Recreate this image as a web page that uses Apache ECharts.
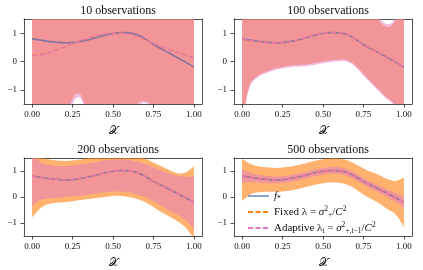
<!DOCTYPE html>
<html>
<head>
<meta charset="utf-8">
<script src="https://cdn.jsdelivr.net/npm/echarts@6/dist/echarts.min.js"></script>
<style>
  html, body { margin: 0; padding: 0; background: #fff; }
  #chart { width: 423px; height: 270px; }
</style>
</head>
<body>
<div id="chart"></div>
<script>
// x grid shared by the true function and the mean estimates
const X = [0, 0.05, 0.1, 0.15, 0.2, 0.25, 0.3, 0.35, 0.4, 0.45, 0.5, 0.55, 0.6, 0.65, 0.7, 0.75, 0.8, 0.85, 0.9, 0.95, 1.0];
const fStar = [0.80, 0.76, 0.71, 0.68, 0.66, 0.67, 0.71, 0.77, 0.85, 0.93, 0.99, 1.02, 1.01, 0.94, 0.79, 0.60, 0.44, 0.29, 0.13, -0.03, -0.20];

// mean estimates per panel
const fixedMean10 = [0.22, 0.25, 0.31, 0.41, 0.52, 0.63, 0.74, 0.83, 0.91, 0.97, 1.00, 1.00, 0.97, 0.89, 0.77, 0.63, 0.52, 0.42, 0.32, 0.22, 0.14];
const adaptiveMean10 = [0.20, 0.23, 0.30, 0.40, 0.52, 0.63, 0.74, 0.84, 0.92, 0.98, 1.00, 1.00, 0.97, 0.89, 0.77, 0.63, 0.52, 0.42, 0.32, 0.22, 0.13];
const fixedMean100 = [0.79, 0.74, 0.70, 0.67, 0.66, 0.67, 0.71, 0.77, 0.85, 0.93, 0.99, 1.02, 1.01, 0.94, 0.79, 0.60, 0.44, 0.29, 0.13, -0.03, -0.19];
const adaptiveMean100 = [0.80, 0.75, 0.70, 0.67, 0.66, 0.67, 0.71, 0.77, 0.85, 0.93, 0.99, 1.02, 1.01, 0.94, 0.79, 0.60, 0.44, 0.29, 0.13, -0.03, -0.20];
const fixedMean200 = [0.80, 0.76, 0.71, 0.68, 0.66, 0.67, 0.71, 0.77, 0.85, 0.93, 0.99, 1.02, 1.01, 0.94, 0.79, 0.60, 0.44, 0.29, 0.13, -0.03, -0.20];
const adaptiveMean200 = [0.80, 0.76, 0.71, 0.68, 0.66, 0.67, 0.71, 0.77, 0.85, 0.93, 0.99, 1.02, 1.01, 0.94, 0.79, 0.60, 0.44, 0.29, 0.13, -0.03, -0.20];
const fixedMean500 = [0.80, 0.76, 0.71, 0.68, 0.66, 0.67, 0.71, 0.77, 0.85, 0.93, 0.99, 1.02, 1.01, 0.94, 0.79, 0.60, 0.44, 0.29, 0.13, -0.03, -0.20];
const adaptiveMean500 = [0.80, 0.76, 0.71, 0.68, 0.66, 0.67, 0.71, 0.77, 0.85, 0.93, 0.99, 1.02, 1.01, 0.94, 0.79, 0.60, 0.44, 0.29, 0.13, -0.03, -0.20];

// confidence bands, 10 observations (almost everything covered)
const xBand10 = [0, 0.1, 0.2, 0.22, 0.24, 0.26, 0.28, 0.30, 0.32, 0.34, 0.36, 0.45, 0.55, 0.62, 0.64, 0.66, 0.68, 0.70, 0.72, 0.74, 0.76, 0.85, 1.0];
const fixedUp10 = [2.6, 2.6, 2.6, 2.6, 2.6, 2.6, 2.6, 2.6, 2.6, 2.6, 2.6, 2.6, 2.6, 2.6, 2.6, 2.6, 2.6, 2.6, 2.6, 2.6, 2.6, 2.6, 2.6];
const fixedLo10 = [-2.6, -2.4, -2.0, -1.75, -1.45, -1.2, -1.12, -1.17, -1.42, -1.7, -2.0, -2.4, -2.2, -1.75, -1.55, -1.44, -1.40, -1.40, -1.44, -1.55, -1.75, -2.3, -2.6];
const adaptiveUp10 = [2.8, 2.8, 2.8, 2.8, 2.8, 2.8, 2.8, 2.8, 2.8, 2.8, 2.8, 2.8, 2.8, 2.8, 2.8, 2.8, 2.8, 2.8, 2.8, 2.8, 2.8, 2.8, 2.8];
const adaptiveLo10 = [-2.8, -2.6, -2.2, -1.95, -1.65, -1.38, -1.26, -1.30, -1.55, -1.9, -2.2, -2.6, -2.4, -1.95, -1.7, -1.56, -1.48, -1.47, -1.53, -1.7, -1.9, -2.5, -2.8];

// 100 observations
const xBand100 = [0, 0.02, 0.05, 0.1, 0.15, 0.2, 0.25, 0.3, 0.4, 0.5, 0.6, 0.65, 0.7, 0.75, 0.8, 0.84, 0.86, 0.88, 0.9, 0.92, 0.94, 0.96, 1.0];
const fixedUp100 = [2.6, 2.4, 2.2, 2.0, 1.9, 1.85, 1.8, 1.8, 1.9, 2.1, 2.2, 2.1, 1.95, 1.8, 1.65, 1.5, 1.34, 1.25, 1.22, 1.25, 1.38, 1.6, 2.2];
const fixedLo100 = [-2.6, -1.5, -0.79, -0.49, -0.35, -0.25, -0.19, -0.14, -0.10, 0.0, 0.07, 0.05, -0.13, -0.43, -0.73, -0.96, -1.08, -1.2, -1.29, -1.38, -1.5, -1.66, -2.2];
const adaptiveUp100 = [2.7, 2.5, 2.3, 2.1, 2.0, 1.95, 1.9, 1.9, 2.0, 2.2, 2.3, 2.2, 2.05, 1.9, 1.75, 1.6, 1.46, 1.36, 1.32, 1.34, 1.48, 1.7, 2.3];
const adaptiveLo100 = [-2.7, -1.6, -0.86, -0.55, -0.41, -0.31, -0.25, -0.20, -0.16, -0.06, 0.01, -0.01, -0.19, -0.49, -0.79, -1.02, -1.14, -1.26, -1.35, -1.44, -1.56, -1.72, -2.3];

// 200 observations
const fixedUp200 = [1.8, 1.52, 1.45, 1.4, 1.38, 1.4, 1.44, 1.5, 1.55, 1.6, 1.62, 1.63, 1.6, 1.55, 1.47, 1.33, 1.18, 1.03, 0.91, 0.94, 1.18];
const fixedLo200 = [-0.79, -0.44, -0.27, -0.22, -0.2, -0.16, -0.12, -0.08, -0.04, 0.0, 0.04, 0.04, 0.0, -0.08, -0.2, -0.38, -0.59, -0.76, -0.94, -1.18, -1.6];
const adaptiveUp200 = [1.7, 1.35, 1.24, 1.2, 1.19, 1.21, 1.26, 1.3, 1.35, 1.4, 1.44, 1.45, 1.42, 1.36, 1.26, 1.14, 1.02, 0.9, 0.82, 0.78, 0.8];
const adaptiveLo200 = [-0.35, -0.12, -0.06, -0.03, 0.0, 0.03, 0.06, 0.1, 0.14, 0.18, 0.2, 0.21, 0.18, 0.1, 0.0, -0.16, -0.35, -0.53, -0.7, -0.88, -1.24];

// 500 observations
const fixedUp500 = [1.47, 1.28, 1.18, 1.14, 1.12, 1.13, 1.17, 1.23, 1.31, 1.39, 1.45, 1.48, 1.47, 1.41, 1.27, 1.10, 0.96, 0.84, 0.68, 0.62, 0.75];
const fixedLo500 = [-0.15, 0.1, 0.18, 0.2, 0.2, 0.21, 0.25, 0.31, 0.39, 0.47, 0.53, 0.56, 0.55, 0.47, 0.31, 0.10, -0.08, -0.26, -0.47, -0.68, -1.15];
const adaptiveUp500 = [1.05, 0.94, 0.86, 0.82, 0.79, 0.80, 0.84, 0.90, 0.98, 1.06, 1.12, 1.15, 1.14, 1.07, 0.92, 0.73, 0.57, 0.43, 0.28, 0.14, 0.02];
const adaptiveLo500 = [0.55, 0.58, 0.56, 0.54, 0.53, 0.54, 0.58, 0.64, 0.72, 0.80, 0.86, 0.89, 0.88, 0.81, 0.66, 0.47, 0.31, 0.15, -0.02, -0.20, -0.42];

const titles = ['10 observations', '100 observations', '200 observations', '500 observations'];
const xTicks = [0, 0.25, 0.5, 0.75, 1];
const yTicks = [-1, 0, 1];

const panels = [
    { fixedMean: fixedMean10, adaptiveMean: adaptiveMean10, bandX: xBand10, fUp: fixedUp10, fLo: fixedLo10, aUp: adaptiveUp10, aLo: adaptiveLo10 },
    { fixedMean: fixedMean100, adaptiveMean: adaptiveMean100, bandX: xBand100, fUp: fixedUp100, fLo: fixedLo100, aUp: adaptiveUp100, aLo: adaptiveLo100 },
    { fixedMean: fixedMean200, adaptiveMean: adaptiveMean200, bandX: X, fUp: fixedUp200, fLo: fixedLo200, aUp: adaptiveUp200, aLo: adaptiveLo200 },
    { fixedMean: fixedMean500, adaptiveMean: adaptiveMean500, bandX: X, fUp: fixedUp500, fLo: fixedLo500, aUp: adaptiveUp500, aLo: adaptiveLo500 }
];

const FONT = 'Liberation Serif';
const ORANGE = '#ff7f0e';
const PINK = '#e377c2';
const AXIS_COLOR = '#262626';

const grids = [
    { left: 24, top: 19, width: 178, height: 85 },
    { left: 234, top: 19, width: 178, height: 85 },
    { left: 24, top: 158, width: 178, height: 85 },
    { left: 234, top: 158, width: 178, height: 85 }
];

const pairs = (xs, ys) => xs.map((x, i) => [x, ys[i]]);

// smooth curve through pixel points (Catmull-Rom -> cubic bezier)
function curveTo(pts) {
    let d = '';
    for (let i = 0; i < pts.length - 1; i++) {
        const p0 = pts[i - 1] || pts[i], p1 = pts[i], p2 = pts[i + 1], p3 = pts[i + 2] || pts[i + 1];
        const c1 = [p1[0] + (p2[0] - p0[0]) / 6, p1[1] + (p2[1] - p0[1]) / 6];
        const c2 = [p2[0] - (p3[0] - p1[0]) / 6, p2[1] - (p3[1] - p1[1]) / 6];
        d += 'C' + c1.join(',') + ' ' + c2.join(',') + ' ' + p2.join(',');
    }
    return d;
}

// filled band between lo and up, positioned through the axes of the grid
function bandSeries(i, xs, lo, up, color) {
    return {
        type: 'custom', xAxisIndex: i, yAxisIndex: i, silent: true, clip: true,
        data: [[xs[0], lo[0]]],
        renderItem: (params, api) => {
            const top = xs.map((x, k) => api.coord([x, up[k]]));
            const bot = xs.map((x, k) => api.coord([x, lo[k]])).reverse();
            const d = 'M' + top[0].join(',') + curveTo(top) + 'L' + bot[0].join(',') + curveTo(bot) + 'Z';
            return { type: 'path', shape: { pathData: d }, style: { fill: color } };
        }
    };
}

const xAxes = [];
const yAxes = [];
const series = [];
const titleList = [];

grids.forEach((g, i) => {
    titleList.push({
        text: titles[i],
        left: g.left + g.width / 2,
        top: g.top - 19,
        textAlign: 'center',
        textStyle: { fontFamily: FONT, fontWeight: 'normal', fontSize: 12, color: '#111' }
    });

    xAxes.push({
        type: 'value', gridIndex: i, min: -0.05, max: 1.05,
        name: '𝒳', nameLocation: 'middle', nameGap: 22,
        nameTextStyle: { fontFamily: FONT, fontSize: 11, color: '#111' },
        axisLine: { show: true, onZero: false, lineStyle: { color: AXIS_COLOR, width: 0.8 } },
        axisTick: { show: true, length: 3.5, customValues: xTicks, lineStyle: { color: AXIS_COLOR, width: 0.8 } },
        axisLabel: { customValues: xTicks, margin: 6, fontFamily: FONT, fontSize: 9, color: '#111',
            formatter: v => v.toFixed(2) },
        splitLine: { show: false }
    });
    yAxes.push({
        type: 'value', gridIndex: i, min: -1.5, max: 1.5,
        axisLine: { show: true, onZero: false, lineStyle: { color: AXIS_COLOR, width: 0.8 } },
        axisTick: { show: true, length: 3.5, customValues: yTicks, lineStyle: { color: AXIS_COLOR, width: 0.8 } },
        axisLabel: { customValues: yTicks, margin: 7, fontFamily: FONT, fontSize: 9, color: '#111',
            formatter: v => (v < 0 ? '\u2212' + (-v) : String(v)) },
        splitLine: { show: false }
    });

    const p = panels[i];
    // fixed lambda band (orange), then adaptive band (pink) on top
    series.push(bandSeries(i, p.bandX, p.fLo, p.fUp, 'rgba(255,127,14,0.6)'));
    series.push(bandSeries(i, p.bandX, p.aLo, p.aUp, 'rgba(227,119,194,0.5)'));

    // true function and the two mean estimates
    const common = { type: 'line', xAxisIndex: i, yAxisIndex: i, showSymbol: false, symbol: 'none', silent: true, smooth: 0.3 };
    series.push(Object.assign({}, common, {
        name: 'f*', data: pairs(X, fStar),
        itemStyle: { color: 'rgba(45,90,165,0.55)' },
        lineStyle: { color: 'rgba(45,90,165,0.55)', width: 1.6 }
    }));
    series.push(Object.assign({}, common, {
        name: 'Fixed', data: pairs(X, p.fixedMean),
        itemStyle: { color: ORANGE },
        lineStyle: { color: ORANGE, width: 1.3, type: [5, 2.5] }
    }));
    series.push(Object.assign({}, common, {
        name: 'Adaptive', data: pairs(X, p.adaptiveMean),
        itemStyle: { color: PINK },
        lineStyle: { color: PINK, width: 1.3, type: [5, 2.5] }
    }));
});

// top and right spines
grids.forEach((g, i) => {
    xAxes.push({
        type: 'value', gridIndex: i, position: 'top', min: -0.05, max: 1.05,
        axisLine: { show: true, onZero: false, lineStyle: { color: AXIS_COLOR, width: 0.8 } },
        axisTick: { show: false }, axisLabel: { show: false }, splitLine: { show: false }
    });
    yAxes.push({
        type: 'value', gridIndex: i, position: 'right', min: -1.5, max: 1.5,
        axisLine: { show: true, onZero: false, lineStyle: { color: AXIS_COLOR, width: 0.8 } },
        axisTick: { show: false }, axisLabel: { show: false }, splitLine: { show: false }
    });
});

const legendText = {
    'f*': '{it|f}{sub|*}',
    'Fixed': 'Fixed {m|λ} = {it|σ}{sup|2}{sub|+}/{it|C}{sup|2}',
    'Adaptive': 'Adaptive {m|λ}{sub|t} = {it|σ}{sup|2}{sub|+,t\u22121}/{it|C}{sup|2}'
};

const chart = echarts.init(document.getElementById('chart'), null, { renderer: 'canvas' });
chart.setOption({
    animation: false,
    backgroundColor: '#fff',
    title: titleList,
    grid: grids,
    xAxis: xAxes,
    yAxis: yAxes,
    legend: {
        data: ['f*', 'Fixed', 'Adaptive'],
        orient: 'vertical',
        left: 242, top: 184,
        itemWidth: 21, itemHeight: 14, itemGap: 2,
        selectedMode: false,
        itemStyle: { opacity: 0, borderWidth: 0 },
        formatter: name => legendText[name],
        textStyle: {
            fontFamily: FONT, fontSize: 11, color: '#111', lineHeight: 14,
            rich: {
                it: { fontFamily: FONT, fontSize: 11, fontStyle: 'italic', color: '#111', lineHeight: 14 },
                m: { fontFamily: FONT, fontSize: 11, color: '#111', lineHeight: 14 },
                sup: { fontFamily: FONT, fontSize: 7.5, color: '#111', verticalAlign: 'top', lineHeight: 8 },
                sub: { fontFamily: FONT, fontSize: 7.5, color: '#111', verticalAlign: 'bottom', lineHeight: 8 }
            }
        }
    },
    series: series
});
</script>
</body>
</html>
